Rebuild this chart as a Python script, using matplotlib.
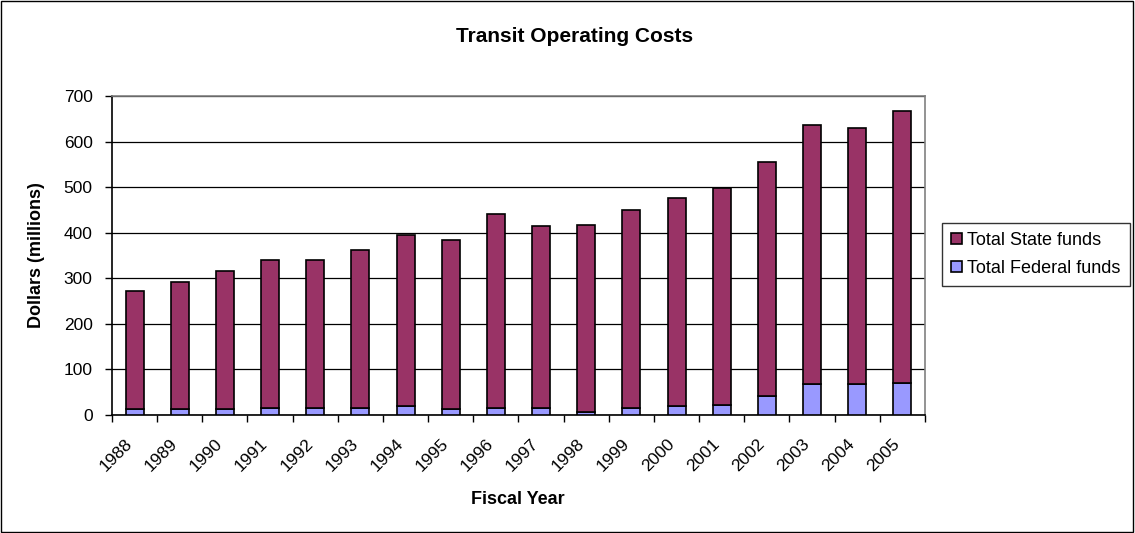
import numpy as np
import matplotlib.pyplot as plt
from matplotlib.transforms import ScaledTranslation

plt.rcParams['font.family'] = ['Liberation Sans', 'DejaVu Sans']

years = ['1988', '1989', '1990', '1991', '1992', '1993', '1994', '1995', '1996',
         '1997', '1998', '1999', '2000', '2001', '2002', '2003', '2004', '2005']
federal = [13, 13, 13, 15, 15, 15, 19, 13, 15, 15, 6, 15, 19, 23, 42, 68, 68, 71]
total = [273, 292, 315, 341, 341, 361, 394, 384, 440, 414, 417, 450, 476, 499,
         555, 637, 630, 667]
state = [t - f for t, f in zip(total, federal)]

W, H = 1135, 533
fig = plt.figure(figsize=(W / 100, H / 100), dpi=100)
ax = fig.add_axes([112 / W, 1 - 415 / H, 813 / W, 319 / H])

x = np.arange(len(years))
ax.bar(x, federal, width=0.4, color='#9999FF', edgecolor='black', linewidth=1.2,
       label='Total Federal funds', zorder=3)
ax.bar(x, state, width=0.4, bottom=federal, color='#993366', edgecolor='black',
       linewidth=1.2, label='Total State funds', zorder=3)

ax.set_xlim(-0.5, len(years) - 0.5)
ax.set_ylim(0, 700)
ax.set_yticks(range(0, 701, 100))
ax.yaxis.grid(True, color='black', linewidth=0.9, zorder=0)
ax.tick_params(axis='y', labelsize=12.5, length=5, width=1, direction='out', pad=9)

ax.set_xticks(np.arange(-0.5, len(years), 1))
ax.set_xticklabels([])
ax.tick_params(axis='x', which='major', length=5, width=1, direction='out')
ax.set_xticks(x, minor=True)
ax.set_xticklabels(years, minor=True, rotation=45, ha='right',
                   rotation_mode='anchor', fontsize=12.5)
ax.tick_params(axis='x', which='minor', length=0, pad=15)
shift = ScaledTranslation(-10 / 100, 0, fig.dpi_scale_trans)
for lab in ax.get_xticklabels(minor=True):
    lab.set_transform(lab.get_transform() + shift)

for s in ['top', 'right']:
    ax.spines[s].set_color('#808080')
    ax.spines[s].set_linewidth(1.2)
for s in ['left', 'bottom']:
    ax.spines[s].set_color('black')
    ax.spines[s].set_linewidth(1.2)

fig.text(575 / W, 1 - 36 / H, 'Transit Operating Costs', fontsize=15,
         fontweight='bold', ha='center', va='center')
fig.text(37 / W, 1 - 255 / H, 'Dollars (millions)', fontsize=13,
         fontweight='bold', ha='center', va='center', rotation=90)
fig.text(518 / W, 1 - 500 / H, 'Fiscal Year', fontsize=13,
         fontweight='bold', ha='center', va='center')

handles, labels = ax.get_legend_handles_labels()
leg = fig.legend(handles[::-1], labels[::-1], loc='upper left',
                 bbox_to_anchor=(942 / W, 1 - 223 / H), fontsize=13, frameon=True,
                 fancybox=False, edgecolor='black', handlelength=0.6,
                 handleheight=0.6, handletextpad=0.3, borderpad=0.5,
                 labelspacing=0.6, borderaxespad=0)
leg.get_frame().set_linewidth(1)

fig.add_artist(plt.Rectangle((0.001, 0.002), 0.997, 0.996, transform=fig.transFigure,
                             fill=False, edgecolor='black', linewidth=1))

fig.savefig('out.png', dpi=100)
